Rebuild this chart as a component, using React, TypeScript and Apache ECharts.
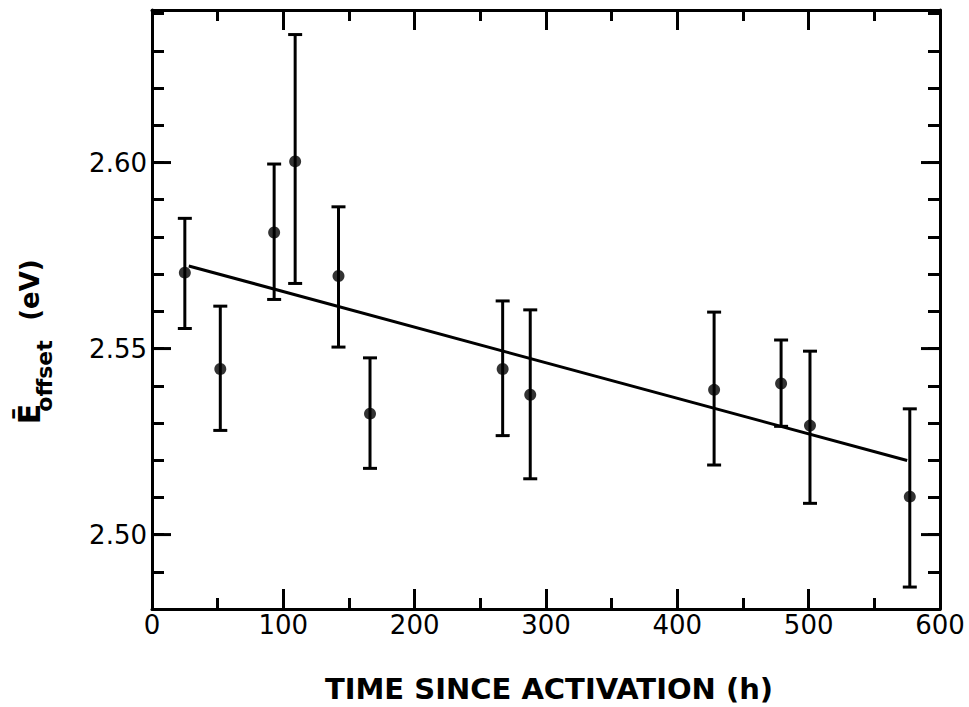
import React, { useEffect, useRef } from "react";
import * as echarts from "echarts";

// Time since activation (h)
const hours = [25, 52, 93, 109, 142, 166, 267, 288, 428, 479, 501, 577];
// Mean offset energy (eV)
const energy = [2.5704, 2.5445, 2.5812, 2.6003, 2.5695, 2.5325, 2.5445, 2.5376, 2.5389, 2.5406, 2.5293, 2.5102];
// Error bar upper / lower ends (eV)
const errHigh = [2.585, 2.5614, 2.5996, 2.6344, 2.5881, 2.5475, 2.5628, 2.5604, 2.5598, 2.5523, 2.5493, 2.5338];
const errLow = [2.5554, 2.528, 2.5632, 2.5675, 2.5504, 2.5178, 2.5266, 2.515, 2.5187, 2.5291, 2.5084, 2.4859];
// Linear fit end points
const fitHours = [28, 575];
const fitEnergy = [2.5722, 2.5199];
// Labelled y values (major ticks)
const yMajor = [2.5, 2.55, 2.6];

const FONT = "DejaVu Sans";

export default function App() {
  const ref = useRef<HTMLDivElement>(null);
  useEffect(() => {
    document.body.style.margin = "0";
    const chart = echarts.init(ref.current!, null, { renderer: "svg" });
    const axisLine = { show: true, onZero: false, lineStyle: { color: "#000", width: 3 } };
    const xCommon = {
      type: "value",
      min: 0,
      max: 600,
      interval: 100,
      axisLine,
      splitLine: { show: false },
      axisTick: { show: true, inside: true, length: 20, lineStyle: { color: "#000", width: 3 } },
      minorTick: { show: true, splitNumber: 2, length: 11, lineStyle: { color: "#000", width: 3 } },
    };
    const yCommon = {
      type: "value",
      min: 2.48,
      max: 2.641,
      interval: 0.01,
      axisLine,
      splitLine: { show: false },
      axisTick: { show: true, inside: true, length: 12, lineStyle: { color: "#000", width: 3 } },
    };
    const option: any = {
      animation: false,
      backgroundColor: "#fff",
      grid: { left: 152, right: 29, top: 10, bottom: 98 },
      xAxis: [
        {
          ...xCommon,
          position: "bottom",
          axisLabel: { show: true, color: "#000", fontSize: 26, fontFamily: FONT, margin: 3 },
        },
        { ...xCommon, position: "top", axisLabel: { show: false } },
      ],
      yAxis: [
        {
          ...yCommon,
          position: "left",
          axisLabel: {
            show: true,
            color: "#000",
            fontSize: 26,
            fontFamily: FONT,
            margin: 5,
            formatter: (v: number) => (Math.round(v * 100) % 5 === 0 ? v.toFixed(2) : ""),
          },
        },
        { ...yCommon, position: "right", axisLabel: { show: false } },
      ],
      series: [
        {
          type: "custom",
          name: "majorTicks",
          xAxisIndex: 0,
          yAxisIndex: 0,
          data: [...yMajor.map((v) => [0, v, 1]), ...yMajor.map((v) => [600, v, -1])],
          encode: { x: 0, y: 1 },
          renderItem: (params: any, api: any) => {
            const p = api.coord([api.value(0), api.value(1)]);
            const dir = api.value(2);
            return {
              type: "line",
              shape: { x1: p[0], y1: p[1], x2: p[0] + dir * 19, y2: p[1] },
              style: { stroke: "#000", lineWidth: 3 },
            };
          },
          silent: true,
        },
        {
          type: "custom",
          name: "errorBars",
          xAxisIndex: 0,
          yAxisIndex: 0,
          data: hours.map((h, i) => [h, errLow[i], errHigh[i]]),
          encode: { x: 0, y: [1, 2] },
          renderItem: (params: any, api: any) => {
            const x = api.value(0);
            const lo = api.coord([x, api.value(1)]);
            const hi = api.coord([x, api.value(2)]);
            const hw = 7;
            const st = { stroke: "#000", lineWidth: 3 };
            return {
              type: "group",
              children: [
                { type: "line", shape: { x1: hi[0], y1: hi[1], x2: lo[0], y2: lo[1] }, style: st },
                { type: "line", shape: { x1: hi[0] - hw, y1: hi[1], x2: hi[0] + hw, y2: hi[1] }, style: st },
                { type: "line", shape: { x1: lo[0] - hw, y1: lo[1], x2: lo[0] + hw, y2: lo[1] }, style: st },
              ],
            };
          },
          silent: true,
        },
        {
          type: "line",
          name: "fit",
          data: fitHours.map((h, i) => [h, fitEnergy[i]]),
          showSymbol: false,
          symbol: "none",
          lineStyle: { color: "#000", width: 3 },
          silent: true,
        },
        {
          type: "scatter",
          name: "data",
          data: hours.map((h, i) => [h, energy[i]]),
          symbol: "circle",
          symbolSize: 12,
          itemStyle: { color: "#000" },
          silent: true,
        },
      ],
      graphic: [
        {
          type: "text",
          x: 549,
          y: 689,
          style: {
            text: "TIME SINCE ACTIVATION (h)",
            font: `bold 29px "${FONT}"`,
            fill: "#000",
            textAlign: "center",
            textVerticalAlign: "middle",
            align: "center",
            verticalAlign: "middle",
          },
        },
        {
          type: "text",
          x: 29,
          y: 414,
          rotation: Math.PI / 2,
          style: {
            text: "Ē",
            font: `bold 30px "${FONT}"`,
            fill: "#000",
            textAlign: "center",
            textVerticalAlign: "middle",
            align: "center",
            verticalAlign: "middle",
          },
        },
        {
          type: "text",
          x: 44,
          y: 376,
          rotation: Math.PI / 2,
          style: {
            text: "offset",
            font: `bold 22px "${FONT}"`,
            fill: "#000",
            textAlign: "center",
            textVerticalAlign: "middle",
            align: "center",
            verticalAlign: "middle",
          },
        },
        {
          type: "text",
          x: 30,
          y: 290,
          rotation: Math.PI / 2,
          style: {
            text: "(eV)",
            font: `bold 26px "${FONT}"`,
            fill: "#000",
            textAlign: "center",
            textVerticalAlign: "middle",
            align: "center",
            verticalAlign: "middle",
          },
        },
      ],
    };
    chart.setOption(option);
    return () => chart.dispose();
  }, []);
  return <div ref={ref} style={{ width: 969, height: 707 }} />;
}
